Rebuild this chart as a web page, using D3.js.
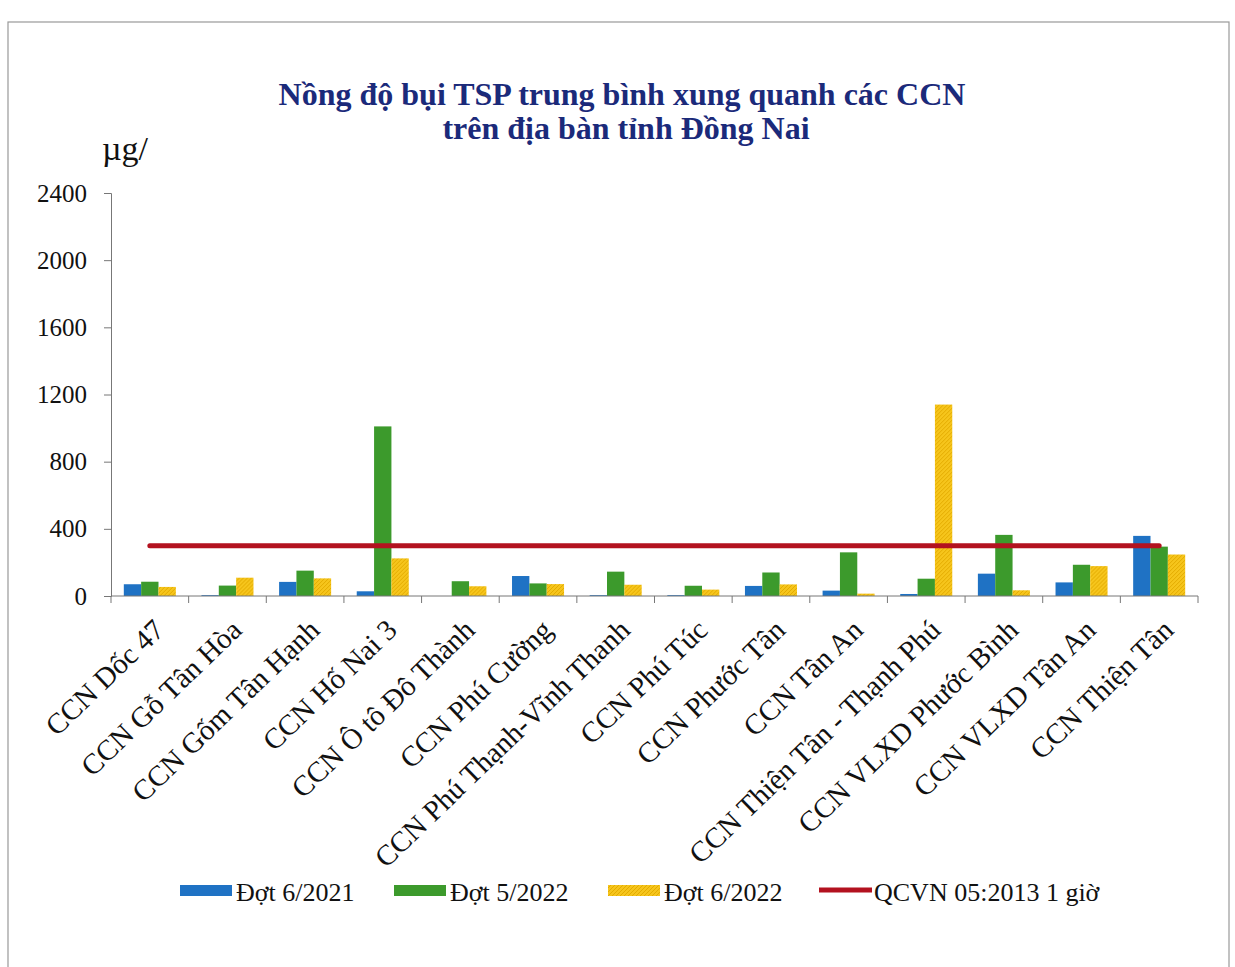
<!DOCTYPE html>
<html>
<head>
<meta charset="utf-8">
<script src="https://cdn.jsdelivr.net/npm/d3@7"></script>
<style>
  body { margin: 0; background: #fff; }
  text { font-family: "Liberation Serif", "DejaVu Serif", serif; }
</style>
</head>
<body>
<svg id="chart" width="1235" height="967"></svg>
<script>
// data
const categories = [
  "CCN Dốc 47", "CCN Gỗ Tân Hòa", "CCN Gốm Tân Hạnh", "CCN Hố Nai 3",
  "CCN Ô tô Đô Thành", "CCN Phú Cường", "CCN Phú Thạnh-Vĩnh Thanh", "CCN Phú Túc",
  "CCN Phước Tân", "CCN Tân An", "CCN Thiện Tân - Thạnh Phú", "CCN VLXD Phước Bình",
  "CCN VLXD Tân An", "CCN Thiện Tân"
];
const seriesNames = ["Đợt 6/2021", "Đợt 5/2022", "Đợt 6/2022"];
const dot6_2021 = [70, 5, 84, 28, 0, 119, 5, 5, 60, 32, 12, 133, 81, 358];
const dot5_2022 = [85, 62, 151, 1010, 88, 75, 145, 61, 140, 260, 103, 364, 186, 294];
const dot6_2022 = [54, 109, 105, 224, 58, 71, 67, 38, 69, 14, 1140, 34, 178, 247];
const limitName = "QCVN 05:2013 1 giờ";
const limitValue = 300;
const yTicks = [0, 400, 800, 1200, 1600, 2000, 2400];

const seriesValues = [dot6_2021, dot5_2022, dot6_2022];
const colors = ["#1f72c4", "#3c9a2c", "#f6c51c"];
const lineColor = "#b3121f";

const svg = d3.select("#chart");

// yellow bars have a fine hatch in the scan
const defs = svg.append("defs");
const pat = defs.append("pattern").attr("id", "hatch").attr("patternUnits", "userSpaceOnUse")
  .attr("width", 4).attr("height", 4);
pat.append("rect").attr("width", 4).attr("height", 4).attr("fill", colors[2]);
pat.append("path").attr("d", "M-1,1 l2,-2 M0,4 l4,-4 M3,5 l2,-2")
  .attr("stroke", "#e3ab00").attr("stroke-width", 1);
const fills = [colors[0], colors[1], "url(#hatch)"];

// frame
svg.append("rect").attr("x", 8).attr("y", 22).attr("width", 1221).attr("height", 960)
  .attr("fill", "none").attr("stroke", "#999").attr("stroke-width", 1.2);

const x0 = d3.scaleBand().domain(categories).range([111, 1198]).paddingInner(0.33).paddingOuter(0.165);
const x1 = d3.scaleBand().domain(seriesNames).range([0, x0.bandwidth()]);
const y = d3.scaleLinear().domain([0, 2400]).range([596, 193]);

// title
const title = svg.append("text").attr("text-anchor", "middle").attr("fill", "#1b2a7a")
  .attr("font-weight", "bold").attr("font-size", 32);
title.append("tspan").attr("x", 622).attr("y", 105).text("Nồng độ bụi TSP trung bình xung quanh các CCN");
title.append("tspan").attr("x", 626).attr("y", 139).text("trên địa bàn tỉnh Đồng Nai");

svg.append("text").attr("x", 102).attr("y", 160).attr("font-size", 34).attr("fill", "#111").text("µg/");

// y axis
const yAxis = svg.append("g").attr("transform", "translate(111,0)")
  .call(d3.axisLeft(y).tickValues(yTicks).tickFormat(d3.format("d")).tickSize(7).tickPadding(17));
yAxis.select(".domain").attr("stroke", "#777");
yAxis.selectAll(".tick line").attr("stroke", "#777");
yAxis.selectAll(".tick text").attr("font-size", 25).attr("fill", "#111")
  .attr("font-family", "Liberation Serif, serif");

// bars
const groups = svg.append("g").selectAll("g").data(categories).join("g")
  .attr("transform", d => `translate(${x0(d)},0)`);
groups.selectAll("rect")
  .data((d, i) => seriesNames.map((s, k) => ({ s, k, v: seriesValues[k][i] })))
  .join("rect")
  .attr("x", d => x1(d.s)).attr("width", x1.bandwidth())
  .attr("y", d => y(d.v)).attr("height", d => y(0) - y(d.v))
  .attr("fill", d => fills[d.k]);

// x axis with ticks at category boundaries
const step = x0.step();
const xg = svg.append("g");
xg.append("line").attr("x1", 111).attr("x2", 1198).attr("y1", y(0)).attr("y2", y(0))
  .attr("stroke", "#777");
const bounds = d3.range(categories.length + 1).map(i => 111 + i * step);
xg.selectAll("line.t").data(bounds).join("line").attr("class", "t")
  .attr("x1", d => d).attr("x2", d => d).attr("y1", y(0)).attr("y2", y(0) + 7)
  .attr("stroke", "#777");
xg.selectAll("text").data(categories).join("text")
  .attr("text-anchor", "end").attr("font-size", 29).attr("fill", "#111")
  .attr("transform", d => `translate(${x0(d) + x0.bandwidth() / 2 + 16},${y(0) + 36}) rotate(-44)`)
  .text(d => d);

// limit line through category centres
const limitLine = d3.line().x(d => x0(d) + x0.bandwidth() / 2).y(() => y(limitValue));
svg.append("path").datum(categories).attr("d", limitLine)
  .attr("fill", "none").attr("stroke", lineColor).attr("stroke-width", 5).attr("stroke-linecap", "round");

// legend
const legend = svg.append("g");
const legX = [180, 394, 608];
seriesNames.forEach((s, k) => {
  legend.append("rect").attr("x", legX[k]).attr("y", 885).attr("width", 52).attr("height", 11).attr("fill", fills[k]);
  legend.append("text").attr("x", legX[k] + 56).attr("y", 901).attr("font-size", 26).attr("fill", "#111").text(s);
});
legend.append("line").attr("x1", 819).attr("x2", 872).attr("y1", 890).attr("y2", 890)
  .attr("stroke", lineColor).attr("stroke-width", 5);
legend.append("text").attr("x", 874).attr("y", 901).attr("font-size", 26).attr("fill", "#111").text(limitName);
</script>
</body>
</html>
